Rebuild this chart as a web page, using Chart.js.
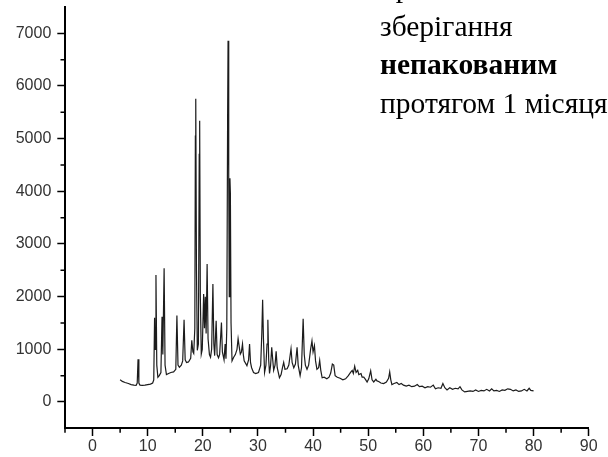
<!DOCTYPE html>
<html>
<head>
<meta charset="utf-8">
<script src="https://cdn.jsdelivr.net/npm/chart.js@4.4.1/dist/chart.umd.min.js"></script>
<style>
  html, body { margin: 0; padding: 0; background: #fff; overflow: hidden; }
  #wrap { position: relative; width: 608px; height: 457px; }
  #note {
    position: absolute; left: 380px; top: -32px;
    font-family: "Liberation Serif", "Times New Roman", serif;
    font-size: 29.5px; line-height: 38.5px; color: #000; white-space: nowrap;
  }
</style>
</head>
<body>
<div id="wrap">
  <canvas id="myChart" width="608" height="457"></canvas>
  <div id="note">
    <div>при</div>
    <div>зберігання</div>
    <div><b>непакованим</b></div>
    <div>протягом 1 місяця</div>
  </div>
</div>
<script>
// 2θ, degrees
var twoTheta = [
  5.0, 5.4, 5.9, 6.5, 7.0, 7.5, 7.9, 8.1, 8.25, 8.4, 8.6, 9.0, 9.5, 10.0, 10.5, 10.9,
  11.1, 11.25, 11.35, 11.5, 11.65, 11.85, 12.1, 12.4, 12.6, 12.75, 12.98, 13.15, 13.4, 13.8,
  14.2, 14.7, 15.1, 15.3, 15.5, 15.75, 16.1, 16.35, 16.6, 16.8, 17.05, 17.4, 17.8, 18.0,
  18.2, 18.35, 18.55, 18.65, 18.72, 18.85, 19.0, 19.2, 19.35, 19.43, 19.55, 19.72, 19.9,
  20.15, 20.3, 20.45, 20.6, 20.78, 20.95, 21.2, 21.4, 21.6, 21.83, 22.0, 22.15, 22.42,
  22.6, 22.85, 23.05, 23.38, 23.55, 23.85, 24.05, 24.2, 24.35, 24.5, 24.58, 24.7, 24.8,
  24.92, 25.0, 25.12, 25.3, 25.6, 25.9, 26.2, 26.4, 26.6, 26.8, 27.0, 27.2, 27.35, 27.5,
  28.0, 28.3, 28.48, 28.65, 28.85, 29.2, 29.6, 30.1, 30.5, 30.7, 30.85, 31.0, 31.2, 31.45,
  31.65, 31.8, 31.95, 32.1, 32.3, 32.5, 32.7, 32.85, 33.1, 33.3, 33.5, 33.9, 34.2, 34.45,
  34.67, 34.9, 35.3, 35.6, 36.0, 36.2, 36.5, 36.8, 37.1, 37.3, 37.65, 37.9, 38.2, 38.4,
  38.6, 38.9, 39.2, 39.55, 39.8, 40.0, 40.25, 40.45, 40.7, 41.0, 41.2, 41.4, 41.65, 42.0,
  42.5, 42.9, 43.2, 43.5, 43.75, 44.0, 44.4, 44.9, 45.4, 45.9, 46.4, 46.8, 47.1, 47.3,
  47.55, 47.8, 48.1, 48.3, 48.7, 48.9, 49.2, 49.5, 49.8, 50.1, 50.45, 50.7, 51.0, 51.4,
  51.6, 51.9, 52.3, 52.8, 53.3, 53.7, 53.9, 54.1, 54.3, 54.7, 55.2, 55.6, 56.0, 56.4,
  56.9, 57.4, 57.9, 58.4, 58.9, 59.3, 59.8, 60.3, 60.8, 61.3, 61.8, 62.2, 62.7, 63.2,
  63.55, 63.9, 64.3, 64.8, 65.3, 65.8, 66.3, 66.65, 67.0, 67.5, 68.0, 68.5, 69.0, 69.5,
  70.0, 70.5, 71.0, 71.5, 72.0, 72.4, 72.8, 73.3, 73.8, 74.3, 74.8, 75.3, 75.8, 76.3,
  76.8, 77.3, 77.8, 78.3, 78.8, 79.2, 79.5, 80.0
];
// intensity, counts
var intensity = [
  420, 390, 370, 350, 330, 320, 315, 360, 810, 360, 320, 315, 320, 330, 340, 360,
  420, 1600, 1000, 2410, 700, 470, 500, 560, 1620, 900, 2540, 700, 520, 540,
  560, 570, 620, 1640, 700, 660, 700, 780, 1560, 800, 750, 760, 830, 1170,
  950, 920, 1400, 5050, 5760, 2500, 980, 1100, 4700, 5340, 2000, 910, 1000,
  2050, 1400, 2000, 1300, 2620, 1200, 900, 850, 1000, 2240, 1100, 880, 1540,
  900, 840, 900, 1510, 950, 800, 1100, 820, 1400, 5400, 6860, 4250, 2000,
  4250, 3970, 1500, 780, 850, 900, 1000, 1200, 1050, 910, 950, 1100, 900, 780,
  690, 800, 1100, 750, 650, 560, 540, 560, 700, 1300, 1940, 1200, 560, 700,
  1100, 1560, 800, 540, 700, 1040, 780, 600, 700, 960, 650, 460, 520, 650,
  750, 620, 630, 700, 1010, 750, 650, 720, 1040, 700, 500, 650, 1580, 900,
  700, 620, 700, 1000, 1160, 950, 1070, 780, 620, 650, 790, 600, 460, 470,
  440, 470, 550, 720, 700, 500, 470, 450, 420, 440, 500, 560, 600, 540,
  680, 560, 600, 520, 540, 470, 470, 430, 380, 440, 590, 420, 380, 430,
  400, 390, 360, 350, 380, 450, 570, 420, 330, 350, 370, 330, 350, 320,
  300, 320, 290, 300, 330, 290, 300, 270, 290, 280, 320, 250, 270, 260,
  350, 270, 230, 270, 240, 260, 250, 290, 230, 190, 200, 210, 200, 230,
  200, 220, 210, 240, 210, 250, 210, 220, 200, 230, 220, 250, 240, 210,
  230, 200, 210, 240, 210, 260, 220, 210
];

var xMin = -5, xMax = 90, xMajor = 10, xMinor = 5;
var yMin = -500, yMax = 7500, yMajor = 1000, yMinor = 500;

var points = twoTheta.map(function (t, i) { return { x: t, y: intensity[i] }; });

var tickFont = { family: "Liberation Sans, Arial, sans-serif", size: 16 };

function isMajor(v, step) { return Math.abs(v % step) < 1e-9; }
function yLabelled(v) { return isMajor(v, yMajor) && v >= 0 && v < yMax; }

// short minor ticks drawn at the scale's own pixel positions
var minorTicks = {
    id: 'minorTicks',
    afterDraw: function (chart) {
        var c = chart.ctx, xs = chart.scales.x, ys = chart.scales.y;
        c.save();
        c.strokeStyle = '#000';
        c.lineWidth = 1.5;
        c.beginPath();
        xs.ticks.forEach(function (t) {
            if (isMajor(t.value, xMajor)) return;
            var px = xs.getPixelForValue(t.value);
            c.moveTo(px, xs.top);
            c.lineTo(px, xs.top + 4.5);
        });
        ys.ticks.forEach(function (t) {
            if (yLabelled(t.value) || t.value === yMin || t.value === yMax) return;
            var py = ys.getPixelForValue(t.value);
            c.moveTo(ys.right, py);
            c.lineTo(ys.right - 4.5, py);
        });
        c.stroke();
        c.restore();
    }
};

var ctx = document.getElementById("myChart").getContext('2d');
var myChart = new Chart(ctx, {
    type: 'line',
    data: {
        datasets: [{
            data: points,
            borderColor: '#1c1c1c',
            borderWidth: 1.2,
            pointRadius: 0,
            tension: 0,
            fill: false
        }]
    },
    options: {
        responsive: false,
        animation: false,
        layout: { padding: { left: 0, top: 7, right: 19.3, bottom: 0 } },
        plugins: { legend: { display: false }, tooltip: { enabled: false } },
        scales: {
            x: {
                type: 'linear',
                min: xMin, max: xMax,
                afterFit: function (scale) {
                    scale.height = 28.7;
                    scale.paddingLeft = 0; scale.paddingRight = 0;
                },
                ticks: {
                    stepSize: xMinor, autoSkip: false, maxRotation: 0,
                    color: '#333', font: tickFont, padding: 1,
                    callback: function (v) { return isMajor(v, xMajor) ? String(v) : ''; }
                },
                grid: {
                    drawOnChartArea: false, tickLength: 7.7, tickWidth: 1.5,
                    tickColor: function (c) { return c.tick && isMajor(c.tick.value, xMajor) ? '#000' : 'rgba(0,0,0,0)'; }
                },
                border: { color: '#000', width: 2 }
            },
            y: {
                min: yMin, max: yMax,
                afterFit: function (scale) {
                    scale.width = 65;
                    scale.paddingTop = 0; scale.paddingBottom = 0;
                },
                ticks: {
                    stepSize: yMinor, autoSkip: false,
                    color: '#333', font: tickFont, padding: 6,
                    callback: function (v) { return yLabelled(v) ? String(v) : ''; }
                },
                grid: {
                    drawOnChartArea: false, tickLength: 7.7, tickWidth: 1.5,
                    tickColor: function (c) { return c.tick && yLabelled(c.tick.value) ? '#000' : 'rgba(0,0,0,0)'; }
                },
                border: { color: '#000', width: 2 }
            }
        }
    },
    plugins: [minorTicks]
});
</script>
</body>
</html>
